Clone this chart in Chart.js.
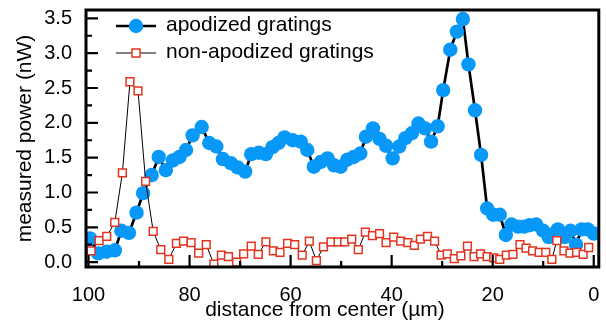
<!DOCTYPE html>
<html>
<head>
<meta charset="utf-8">
<script src="https://cdn.jsdelivr.net/npm/chart.js@4/dist/chart.umd.min.js"></script>
<style>
  body { margin: 0; background: #fff; }
  canvas { display: block; }
</style>
</head>
<body>
<canvas id="ch" width="606" height="322"></canvas>
<script>
// apodized gratings (blue dots)
var apoX = [99.7, 98.1, 96.4, 94.8, 93.5, 92.0, 90.5, 89.2, 87.5, 86.1,
            84.7, 83.3, 82.0, 80.7, 79.4, 77.6, 76.1, 74.7, 73.4, 71.8,
            70.5, 69.0, 67.8, 66.3, 64.9, 63.6, 62.4, 61.2, 59.6, 58.0,
            56.7, 55.4, 54.0, 52.7, 51.4, 50.1, 48.8, 47.5, 46.2, 45.1,
            43.7, 42.4, 41.1, 39.8, 38.5, 37.3, 36.0, 34.7, 33.4, 32.2,
            30.9, 29.8, 28.4, 27.1, 25.9, 24.8, 23.5, 22.3, 21.1, 19.9,
            18.6, 17.4, 16.3, 15.0, 13.8, 12.7, 11.4, 10.0, 8.9, 8.0,
            7.1, 5.8, 4.6, 3.5, 2.4, 1.2, 0.0];
var apoY = [0.34, 0.125, 0.15, 0.17, 0.45, 0.42, 0.71, 0.99, 1.25, 1.51,
            1.32, 1.46, 1.51, 1.61, 1.82, 1.94, 1.71, 1.66, 1.48, 1.42,
            1.36, 1.30, 1.55, 1.57, 1.55, 1.65, 1.71, 1.79, 1.75, 1.73,
            1.61, 1.37, 1.44, 1.49, 1.39, 1.37, 1.47, 1.51, 1.56, 1.80,
            1.92, 1.77, 1.67, 1.49, 1.66, 1.78, 1.85, 1.99, 1.92, 1.73,
            1.95, 2.47, 3.05, 3.31, 3.49, 2.84, 2.18, 1.54, 0.77, 0.68,
            0.68, 0.39, 0.54, 0.51, 0.51, 0.53, 0.54, 0.45, 0.36, 0.40,
            0.47, 0.36, 0.45, 0.25, 0.47, 0.47, 0.41];

// non-apodized gratings (red squares)
var nonX = [99.5, 97.9, 96.4, 94.8, 93.3, 91.8, 90.2, 88.7, 87.2, 85.7,
            84.1, 82.6, 81.2, 79.7, 78.2, 76.7, 75.2, 73.7, 72.3, 70.7,
            69.3, 67.8, 66.4, 64.9, 63.4, 62.1, 60.6, 59.2, 57.7, 56.3,
            54.9, 53.5, 52.0, 50.6, 49.3, 47.9, 46.6, 45.2, 43.8, 42.4,
            41.1, 39.6, 38.2, 36.8, 35.5, 34.3, 32.9, 31.5, 30.2, 29.0,
            27.6, 26.3, 25.0, 23.7, 22.4, 21.1, 19.8, 18.6, 17.3, 16.0,
            14.6, 13.4, 12.1, 10.8, 9.5, 8.3, 7.3, 5.9, 4.7, 3.4,
            2.1, 1.0];
var nonY = [0.16, 0.31, 0.37, 0.57, 1.28, 2.59, 2.46, 1.16, 0.44, 0.18,
            0.04, 0.27, 0.30, 0.28, 0.13, 0.25, -0.03, 0.10, 0.08, 0.00,
            0.12, 0.23, 0.11, 0.29, 0.16, 0.14, 0.27, 0.25, 0.10, 0.30,
            0.02, 0.22, 0.29, 0.29, 0.29, 0.33, 0.18, 0.43, 0.38, 0.41,
            0.28, 0.36, 0.30, 0.28, 0.24, 0.33, 0.37, 0.30, 0.10, 0.12,
            0.05, 0.09, 0.23, 0.08, 0.12, 0.08, 0.06, 0.04, 0.10, 0.11,
            0.25, 0.20, 0.16, 0.14, 0.14, 0.04, 0.31, 0.16, 0.13, 0.14,
            0.11, 0.21];

var xTicks = [100, 80, 60, 40, 20, 0];
var xMinor = [90, 70, 50, 30, 10];
var yTicks = [0, 0.5, 1.0, 1.5, 2.0, 2.5, 3.0, 3.5];
var yMinor = [0.25, 0.75, 1.25, 1.75, 2.25, 2.75, 3.25];

var BLUE = '#0898f8';
var RED = '#e2341f';
var FONT = '"Liberation Sans", Arial, sans-serif';

function pts(xs, ys) {
    return xs.map(function (v, i) { return {x: v, y: ys[i]}; });
}

var frame = {
    id: 'frame',
    afterDatasetsDraw: function (chart) {
        var ctx = chart.ctx, a = chart.chartArea;
        var sx = chart.scales.x, sy = chart.scales.y;
        ctx.save();
        ctx.strokeStyle = '#000';
        ctx.lineWidth = 2.2;
        ctx.beginPath();
        yTicks.forEach(function (v) {
            var p = sy.getPixelForValue(v);
            ctx.moveTo(a.left, p); ctx.lineTo(a.left + 12, p);
        });
        yMinor.forEach(function (v) {
            var p = sy.getPixelForValue(v);
            ctx.moveTo(a.left, p); ctx.lineTo(a.left + 6, p);
        });
        xTicks.forEach(function (v) {
            var p = sx.getPixelForValue(v);
            ctx.moveTo(p, a.bottom); ctx.lineTo(p, a.bottom - 12);
        });
        xMinor.forEach(function (v) {
            var p = sx.getPixelForValue(v);
            ctx.moveTo(p, a.bottom); ctx.lineTo(p, a.bottom - 6);
        });
        ctx.stroke();
        ctx.lineWidth = 3;
        ctx.strokeRect(a.left, a.top, a.right - a.left, a.bottom - a.top);
        ctx.restore();
    },
    afterDraw: function (chart) {
        var ctx = chart.ctx, a = chart.chartArea;
        ctx.save();
        ctx.fillStyle = '#000';
        ctx.font = '21px ' + FONT;
        ctx.textBaseline = 'middle';
        // axis titles
        ctx.textAlign = 'center';
        ctx.fillText('distance from center (\u00b5m)', 325, 310);
        ctx.translate(25, (a.top + a.bottom) / 2);
        ctx.rotate(-Math.PI / 2);
        ctx.fillText('measured power (nW)', 0, 0);
        ctx.restore();

        // legend
        ctx.save();
        ctx.strokeStyle = '#000';
        ctx.lineWidth = 2.5;
        ctx.beginPath(); ctx.moveTo(116, 26); ctx.lineTo(156, 26); ctx.stroke();
        ctx.fillStyle = BLUE;
        ctx.beginPath(); ctx.arc(136, 26, 7.2, 0, Math.PI * 2); ctx.fill();
        ctx.lineWidth = 1;
        ctx.beginPath(); ctx.moveTo(116, 53); ctx.lineTo(156, 53); ctx.stroke();
        ctx.fillStyle = '#fff';
        ctx.strokeStyle = RED;
        ctx.lineWidth = 1.5;
        ctx.fillRect(132, 49, 8, 8);
        ctx.strokeRect(132, 49, 8, 8);
        ctx.fillStyle = '#000';
        ctx.font = '21px ' + FONT;
        ctx.textBaseline = 'middle';
        ctx.textAlign = 'left';
        ctx.fillText('apodized gratings', 166, 25);
        ctx.fillText('non-apodized gratings', 166, 52);
        ctx.restore();
    }
};

var ctx = document.getElementById('ch').getContext('2d');
var myChart = new Chart(ctx, {
    type: 'line',
    data: {
        datasets: [{
            label: 'non-apodized gratings',
            data: pts(nonX, nonY),
            borderColor: '#000',
            borderWidth: 1,
            pointStyle: 'rect',
            pointRadius: 5.5,
            pointBackgroundColor: '#fff',
            pointBorderColor: RED,
            pointBorderWidth: 1.5,
            tension: 0
        }, {
            label: 'apodized gratings',
            data: pts(apoX, apoY),
            borderColor: '#000',
            borderWidth: 2.7,
            pointRadius: 7.2,
            pointBackgroundColor: BLUE,
            pointBorderWidth: 0,
            tension: 0
        }]
    },
    options: {
        responsive: false,
        animation: false,
        devicePixelRatio: 1,
        layout: { padding: { top: 10, right: 5, left: 0, bottom: 0 } },
        plugins: { legend: { display: false }, tooltip: { enabled: false } },
        scales: {
            x: {
                type: 'linear',
                reverse: true,
                min: -1,
                max: 100.5,
                grid: { display: false, drawTicks: false },
                border: { display: false },
                afterBuildTicks: function (s) {
                    s.ticks = xTicks.map(function (v) { return {value: v}; });
                },
                afterFit: function (s) {
                    s.height = 55;
                    s.paddingLeft = 0;
                    s.paddingRight = 0;
                },
                ticks: {
                    padding: 16,
                    color: '#000',
                    font: { family: FONT, size: 20 },
                    maxRotation: 0
                }
            },
            y: {
                min: -0.07,
                max: 3.62,
                grid: { display: false, drawTicks: false },
                border: { display: false },
                afterBuildTicks: function (s) {
                    s.ticks = yTicks.map(function (v) { return {value: v}; });
                },
                afterFit: function (s) {
                    s.width = 86;
                    s.paddingTop = 0;
                    s.paddingBottom = 0;
                },
                ticks: {
                    padding: 14,
                    color: '#000',
                    font: { family: FONT, size: 20 },
                    callback: function (v) { return v.toFixed(1); }
                }
            }
        }
    },
    plugins: [frame]
});
</script>
</body>
</html>
